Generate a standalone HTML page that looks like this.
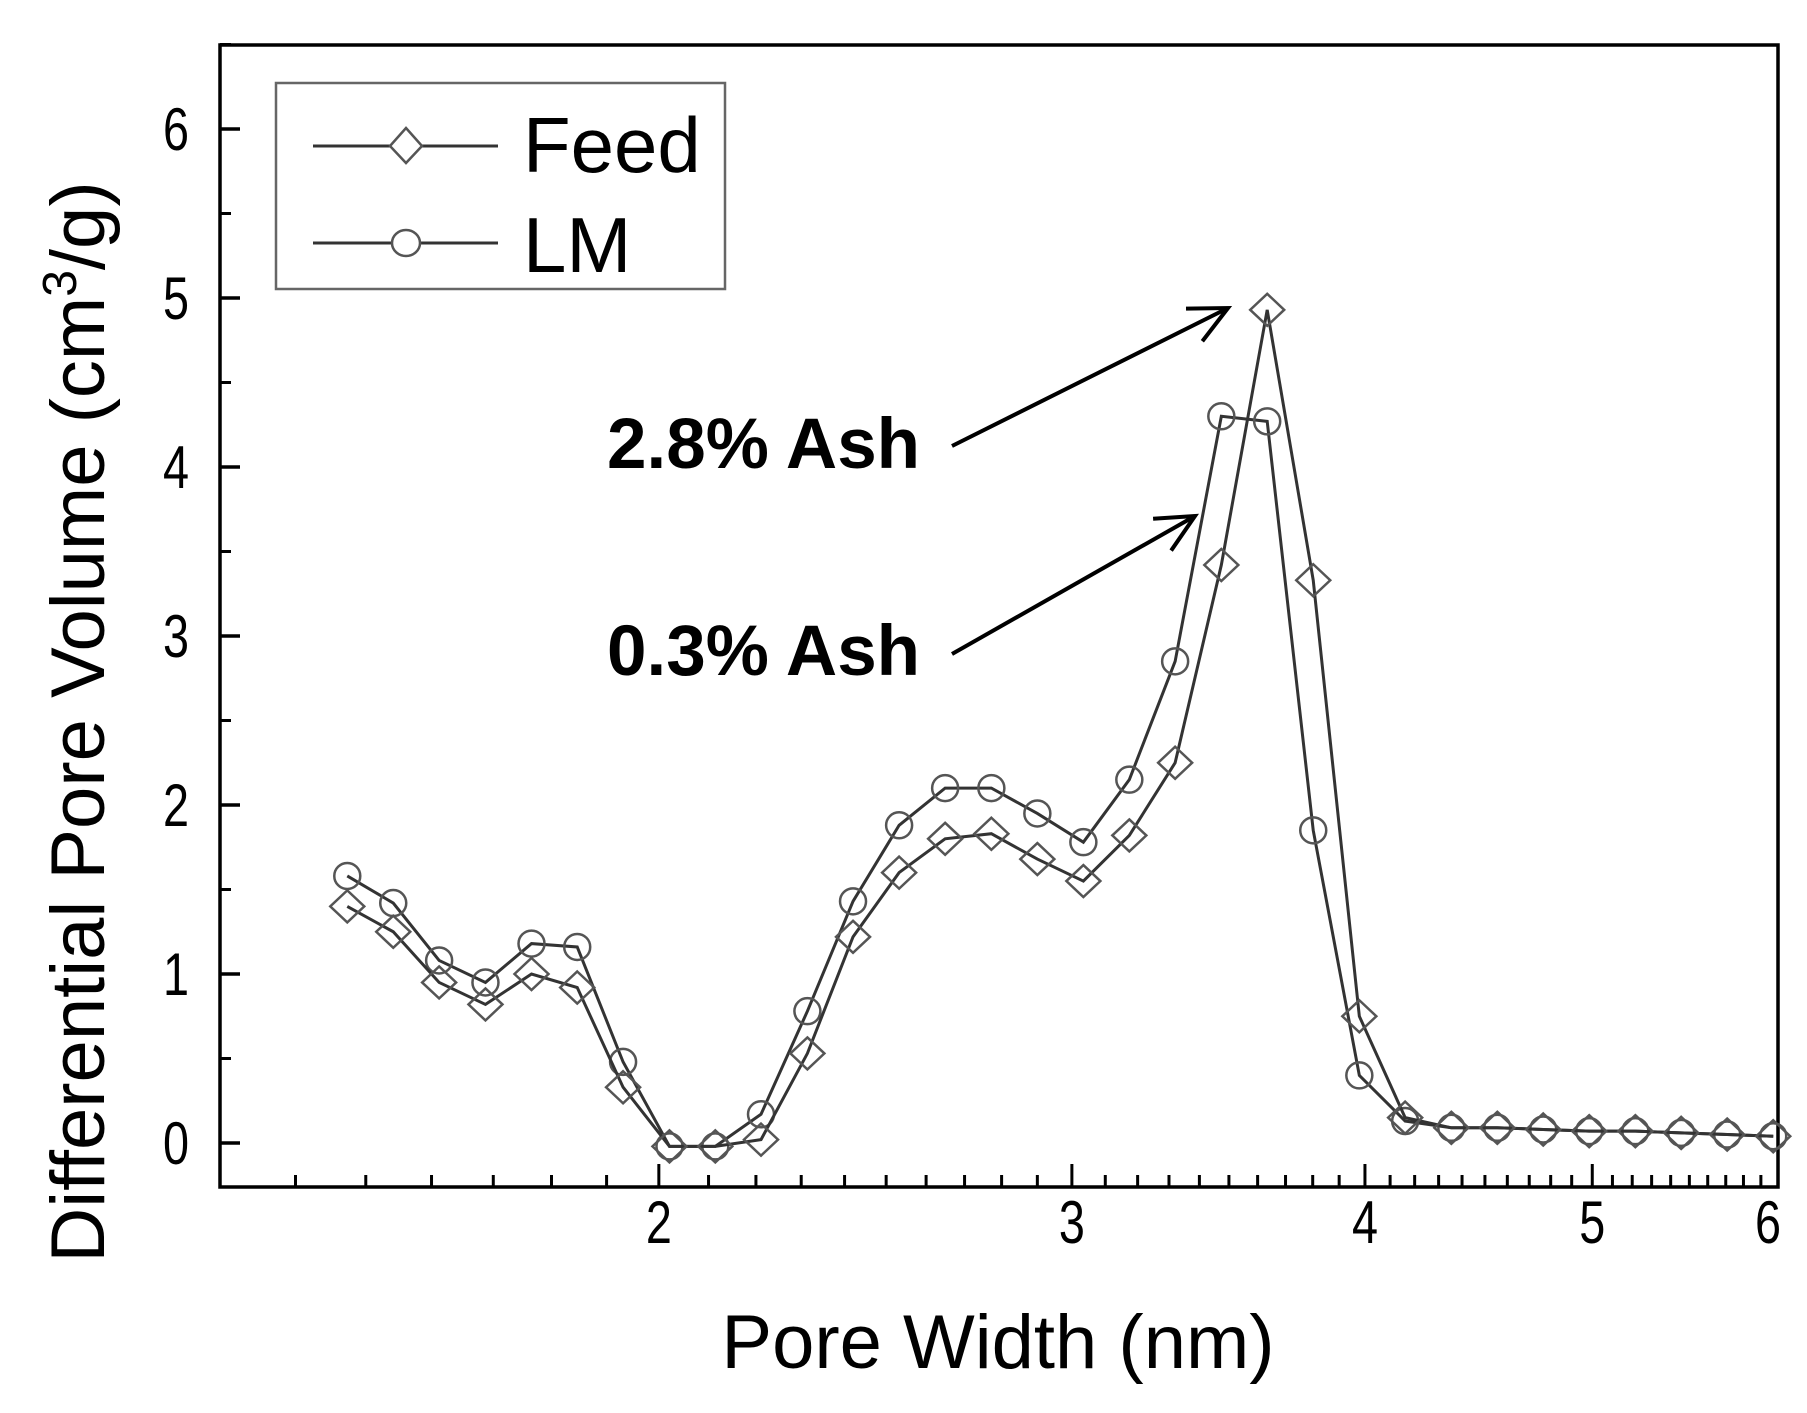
<!DOCTYPE html>
<html><head><meta charset="utf-8"><style>
html,body{margin:0;padding:0;background:#fff;}
svg{display:block;font-family:"Liberation Sans",Arial,sans-serif;}
</style></head><body>
<svg id="chart" width="1807" height="1413" viewBox="0 0 1807 1413">
<g id="plot"></g>
</svg>
<script>
const widths=[1.473,1.541,1.612,1.687,1.765,1.846,1.931,2.021,2.114,2.211,2.314,2.420,2.532,2.649,2.772,2.900,3.034,3.174,3.320,3.474,3.634,3.802,3.978,4.161,4.354,4.555,4.765,4.985,5.216,5.456,5.708,5.972];
const feedValues=[1.40,1.25,0.95,0.82,1.00,0.92,0.33,-0.02,-0.02,0.02,0.53,1.22,1.60,1.80,1.83,1.68,1.55,1.82,2.25,3.42,4.93,3.33,0.75,0.15,0.09,0.09,0.08,0.07,0.07,0.06,0.05,0.04];
const lmValues=[1.58,1.42,1.08,0.95,1.18,1.16,0.48,-0.02,-0.02,0.17,0.78,1.43,1.88,2.10,2.10,1.95,1.78,2.15,2.85,4.30,4.27,1.85,0.40,0.13,0.09,0.09,0.08,0.07,0.07,0.06,0.05,0.04];
const xMajorTicks=[2,3,4,5,6];
const yTicks=[0,1,2,3,4,5,6];

const NS="http://www.w3.org/2000/svg";
const L=220,R=1778,T=45,B=1187;
const xMin=1.3,xMax=6;
const y0px=1143,yPerUnit=169;
function xs(v){return L+(Math.log(v/xMin)/Math.log(xMax/xMin))*(R-L);}
function ys(v){return y0px-v*yPerUnit;}
const g=document.getElementById('plot');
function mk(tag,attrs,parent){const e=document.createElementNS(NS,tag);for(const k in attrs)e.setAttribute(k,attrs[k]);(parent||g).appendChild(e);return e;}

const frame=mk('rect',{x:L,y:T,width:R-L,height:B-T,fill:'none',stroke:'#000','stroke-width':3.5});



yTicks.forEach(v=>{
  const t=mk('line',{x1:L,x2:L+20,y1:ys(v),y2:ys(v),stroke:'#000','stroke-width':3.5});
  
  
  const m=mk('line',{x1:L,x2:L+11,y1:ys(v+0.5),y2:ys(v+0.5),stroke:'#000','stroke-width':3});
  
  
  const lb=mk('text',{x:0,y:0,'font-size':60,'text-anchor':'middle',fill:'#000',transform:`translate(176,${ys(v)+21}) scale(0.78,1)`});
  lb.textContent=v;
  
  
});
for(let k=14;k<60;k++){
  const v=k/10;
  const major=xMajorTicks.some(m=>Math.abs(m-v)<1e-9);
  const t=mk('line',{x1:xs(v),x2:xs(v),y1:B,y2:B-(major?23:12),stroke:'#000','stroke-width':3});
  
  
}
xMajorTicks.forEach(v=>{
  const lb=mk('text',{x:0,y:0,'font-size':60,'text-anchor':'middle',fill:'#000',transform:`translate(${Math.min(xs(v),1768)},1243) scale(0.78,1)`});
  lb.textContent=v;
  
  
});

function series(vals,name,marker){
  const pts=widths.map((w,i)=>xs(w)+','+ys(vals[i])).join(' ');
  const pl=mk('polyline',{points:pts,fill:'none',stroke:'#333','stroke-width':3});
  
  
  widths.forEach((w,i)=>{
    const cx=xs(w),cy=ys(vals[i]);
    let e;
    if(marker==='d'){e=mk('polygon',{points:`${cx},${cy-16} ${cx+17},${cy} ${cx},${cy+16} ${cx-17},${cy}`,fill:'none',stroke:'#555','stroke-width':2.5});}
    else{e=mk('circle',{cx:cx,cy:cy,r:13,fill:'none',stroke:'#555','stroke-width':2.5});}
    
    
  });
}
series(lmValues,'lm','o');
series(feedValues,'feed','d');

const lg=mk('g',{});


mk('rect',{x:276,y:83,width:449,height:206,fill:'none',stroke:'#666','stroke-width':2.5},lg);
mk('line',{x1:313,x2:498,y1:146,y2:146,stroke:'#333','stroke-width':3},lg);
mk('polygon',{points:'406,128 422,146 406,163 390,146',fill:'#fff',stroke:'#555','stroke-width':2.5},lg);
mk('line',{x1:313,x2:498,y1:243,y2:243,stroke:'#333','stroke-width':3},lg);
mk('ellipse',{cx:406,cy:243,rx:14,ry:13,fill:'#fff',stroke:'#555','stroke-width':2.5},lg);
const lf=mk('text',{x:523,y:172,'font-size':78,fill:'#000'},lg);lf.textContent='Feed';


const ll=mk('text',{x:523,y:272,'font-size':78,fill:'#000'},lg);ll.textContent='LM';



function annot(txt,ty,x1,y1,x2,y2,name){
  const t=mk('text',{x:607,y:ty,'font-size':71,'font-weight':'bold',fill:'#000'});
  t.textContent=txt;
  
  
  const ln=mk('line',{x1:x1,y1:y1,x2:x2,y2:y2,stroke:'#000','stroke-width':4});
  
  
  const a=Math.atan2(y2-y1,x2-x1),l=42,s=0.45;
  mk('polyline',{points:`${x2-l*Math.cos(a-s)},${y2-l*Math.sin(a-s)} ${x2},${y2} ${x2-l*Math.cos(a+s)},${y2-l*Math.sin(a+s)}`,fill:'none',stroke:'#000','stroke-width':4});
}
annot('2.8% Ash',468,952,446,1228,308,'ash-2-8');
annot('0.3% Ash',675,952,654,1195,516,'ash-0-3');

const xt=mk('text',{x:998,y:1368,'font-size':76,'text-anchor':'middle',fill:'#000'});
xt.textContent='Pore Width (nm)';


const yt=mk('text',{x:0,y:0,'font-size':76,'text-anchor':'middle',fill:'#000',transform:'translate(104,722) rotate(-90)'});
yt.innerHTML='Differential Pore Volume (cm<tspan dy="-28" font-size="48">3</tspan><tspan dy="28">/g)</tspan>';


</script>
</body></html>
